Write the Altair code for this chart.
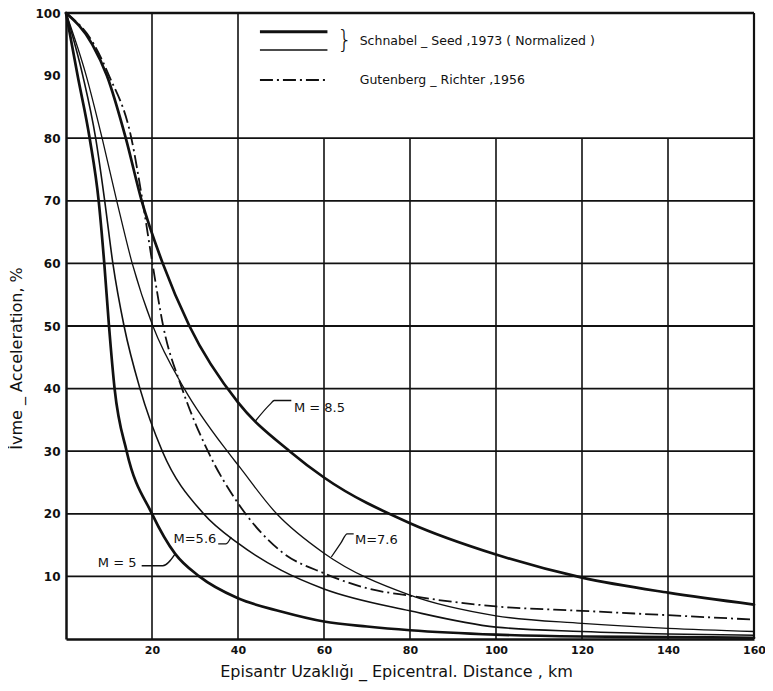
import altair as alt
import pandas as pd

# ---------------- data ----------------
# Schnabel - Seed 1973 (normalized), magnitudes
m5_x = [0, 2.7, 5.5, 7.6, 8.9, 10.0, 11.3, 14.1, 20, 25.4, 31, 40, 50, 60, 70, 80, 100, 120, 140, 160]
m5_y = [100, 90, 80, 70, 60, 50, 40, 30, 20, 13.6, 10, 6.5, 4.4, 2.8, 2.0, 1.4, 0.7, 0.4, 0.3, 0.2]

m56_x = [0, 3.9, 6.9, 9.0, 10.9, 13.5, 17.2, 22.4, 32, 40, 50, 60, 80, 100, 120, 140, 160]
m56_y = [100, 90, 80, 70, 60, 50, 40, 30, 20, 15.3, 11.0, 8.0, 4.5, 1.9, 1.2, 0.8, 0.6]

m76_x = [0, 4.7, 8.4, 11.8, 15.4, 20.2, 27.5, 37.5, 40, 49, 60, 80, 100, 120, 140, 160]
m76_y = [100, 90, 80, 70, 60, 50, 40, 30, 27.8, 20, 13.7, 7.0, 3.7, 2.5, 1.7, 1.2]

m85_x = [0, 6.1, 9.5, 13.9, 17.6, 22.5, 28.7, 40, 52, 60, 80, 100, 120, 140, 160]
m85_y = [100, 95, 90, 80, 70, 60, 50, 37.8, 30, 25.8, 18.5, 13.5, 9.8, 7.4, 5.5]

# Gutenberg - Richter 1956
gr_x = [0, 6.5, 10, 15.2, 17.8, 20.1, 22.6, 27, 33, 40, 50, 60, 70, 80, 100, 120, 140, 160]
gr_y = [100, 95, 90, 80, 70, 60, 50, 40, 30, 21.7, 14, 10.5, 8.1, 6.9, 5.2, 4.5, 3.8, 3.1]

# axis ticks / grid
x_ticks = [20, 40, 60, 80, 100, 120, 140, 160]
y_ticks = [10, 20, 30, 40, 50, 60, 70, 80, 90, 100]
vgrid_x = [20, 40, 60, 80, 100, 120, 140]
vgrid_top = [100, 100, 80, 80, 80, 80, 80]
hgrid_y = [10, 20, 30, 40, 50, 60, 70, 80]

# curve labels
lab_text = ["M = 8.5", "M=7.6", "M=5.6", "M = 5"]
lab_x = [53.0, 67.2, 25.0, 7.4]
lab_y = [36.9, 15.8, 16.0, 12.2]

# leader lines for curve labels
lead_id = [1, 1, 1, 1, 2, 2, 2, 2, 3, 3, 3, 4, 4, 4]
lead_x = [43.9, 47.6, 48.4, 52.4, 61.7, 63.9, 65.4, 66.9, 35.4, 37.2, 38.4, 17.6, 22.5, 25.4]
lead_y = [34.7, 37.6, 38.1, 38.1, 13.1, 15.3, 16.8, 16.8, 15.2, 15.2, 16.3, 11.7, 11.7, 13.6]

# legend
leg_text = ["Schnabel _ Seed ,1973 ( Normalized )", "Gutenberg _ Richter ,1956"]
leg_text_x = [68.3, 68.3]
leg_text_y = [95.5, 89.3]
leg_line_x = [45.1, 45.1, 45.1]
leg_line_x2 = [60.8, 60.8, 60.8]
leg_line_y = [97.0, 94.1, 89.3]

FONT = "DejaVu Sans"
INK = "#111111"

xs = alt.Scale(domain=[0, 160], nice=False, zero=False)
ys = alt.Scale(domain=[0, 100], nice=False, zero=False)


def curve(xv, yv, width, dash=None):
    df = pd.DataFrame({"x": xv, "y": yv})
    kw = dict(color=INK, strokeWidth=width, interpolate="monotone", strokeCap="round")
    if dash is not None:
        kw["strokeDash"] = dash
        kw["strokeCap"] = "butt"
    return alt.Chart(df).mark_line(**kw).encode(
        x=alt.X("x:Q", scale=xs,
                axis=alt.Axis(values=x_ticks, grid=False, ticks=False, labelFlush=False,
                              labelPadding=5, labelFontSize=11, labelFontWeight="bold",
                              labelFont=FONT, labelColor=INK,
                              domainColor=INK, domainWidth=2.5,
                              title="Episantr Uzaklığı _ Epicentral. Distance ,  km",
                              titleFont=FONT, titleFontSize=16, titleFontWeight="normal",
                              titleColor=INK, titleX=330, titleY=32, titleBaseline="middle",
                              titleAlign="center")),
        y=alt.Y("y:Q", scale=ys,
                axis=alt.Axis(values=y_ticks, grid=False, ticks=False, labelPadding=6,
                              labelFontSize=12, labelFontWeight="bold", labelFont=FONT,
                              labelColor=INK, domainColor=INK, domainWidth=2.5,
                              title="İvme _ Acceleration, %", titleFont=FONT, titleFontSize=16,
                              titleFontWeight="normal", titleColor=INK, titleX=-50, titleY=345,
                              titleAngle=-90, titleAlign="center", titleBaseline="middle")),
        order=alt.Order("x:Q"),
    )


vgrid = alt.Chart(pd.DataFrame({"x": vgrid_x, "y0": [0] * len(vgrid_x), "y1": vgrid_top})).mark_rule(
    color=INK, strokeWidth=1.6).encode(x=alt.X("x:Q", scale=xs), y=alt.Y("y0:Q", scale=ys), y2="y1:Q")

hgrid = alt.Chart(pd.DataFrame({"y": hgrid_y, "x0": [0] * len(hgrid_y), "x1": [160] * len(hgrid_y)})).mark_rule(
    color=INK, strokeWidth=1.8).encode(y=alt.Y("y:Q", scale=ys), x=alt.X("x0:Q", scale=xs), x2="x1:Q")

frame_top = alt.Chart(pd.DataFrame({"y": [100], "x0": [0], "x1": [160]})).mark_rule(
    color=INK, strokeWidth=2.6).encode(y=alt.Y("y:Q", scale=ys), x=alt.X("x0:Q", scale=xs), x2="x1:Q")
frame_right = alt.Chart(pd.DataFrame({"x": [160], "y0": [0], "y1": [100]})).mark_rule(
    color=INK, strokeWidth=2.2).encode(x=alt.X("x:Q", scale=xs), y=alt.Y("y0:Q", scale=ys), y2="y1:Q")

c_m5 = curve(m5_x, m5_y, 2.7)
c_m56 = curve(m56_x, m56_y, 1.6)
c_m76 = curve(m76_x, m76_y, 1.3)
c_m85 = curve(m85_x, m85_y, 2.7)
c_gr = curve(gr_x, gr_y, 1.8, dash=[13, 4, 2, 4])

labels = alt.Chart(pd.DataFrame({"t": lab_text, "x": lab_x, "y": lab_y})).mark_text(
    align="left", baseline="middle", font=FONT, fontSize=13, color=INK).encode(
    x=alt.X("x:Q", scale=xs), y=alt.Y("y:Q", scale=ys), text="t:N")

leaders = alt.Chart(pd.DataFrame({"id": lead_id, "x": lead_x, "y": lead_y, "o": list(range(len(lead_x)))})).mark_line(
    color=INK, strokeWidth=1.3, interpolate="monotone").encode(
    x=alt.X("x:Q", scale=xs), y=alt.Y("y:Q", scale=ys), detail="id:N", order="o:Q")

leg_df = pd.DataFrame({"x": leg_line_x, "x2": leg_line_x2, "y": leg_line_y, "k": ["thick", "thin", "gr"]})
leg_thick = alt.Chart(leg_df).transform_filter(alt.datum.k == "thick").mark_rule(
    color=INK, strokeWidth=3).encode(x=alt.X("x:Q", scale=xs), x2="x2:Q", y=alt.Y("y:Q", scale=ys))
leg_thin = alt.Chart(leg_df).transform_filter(alt.datum.k == "thin").mark_rule(
    color=INK, strokeWidth=1.6).encode(x=alt.X("x:Q", scale=xs), x2="x2:Q", y=alt.Y("y:Q", scale=ys))
leg_gr = alt.Chart(leg_df).transform_filter(alt.datum.k == "gr").mark_rule(
    color=INK, strokeWidth=1.8, strokeDash=[13, 4, 2, 4]).encode(
    x=alt.X("x:Q", scale=xs), x2="x2:Q", y=alt.Y("y:Q", scale=ys))

brace = alt.Chart(pd.DataFrame({"t": ["}"], "x": [63.0], "y": [95.6]})).mark_text(
    align="left", baseline="middle", font="DejaVu Sans", fontSize=24, fontWeight=200, color=INK).encode(
    x=alt.X("x:Q", scale=xs), y=alt.Y("y:Q", scale=ys), text="t:N")

leg_texts = alt.Chart(pd.DataFrame({"t": leg_text, "x": leg_text_x, "y": leg_text_y})).mark_text(
    align="left", baseline="middle", font=FONT, fontSize=12.5, color=INK).encode(
    x=alt.X("x:Q", scale=xs), y=alt.Y("y:Q", scale=ys), text="t:N")

chart = alt.layer(
    c_m5, vgrid, hgrid, frame_top, frame_right,
    c_m56, c_m76, c_m85, c_gr,
    leaders, labels, leg_thick, leg_thin, leg_gr, brace, leg_texts,
).properties(
    width=688, height=626,
    autosize=alt.AutoSizeParams(type="none"),
    padding={"left": 58, "top": 5, "right": 11, "bottom": 44},
    background="white",
).configure_view(stroke=None)

chart.save("out.html", embed_options={"renderer": "svg", "actions": False})
